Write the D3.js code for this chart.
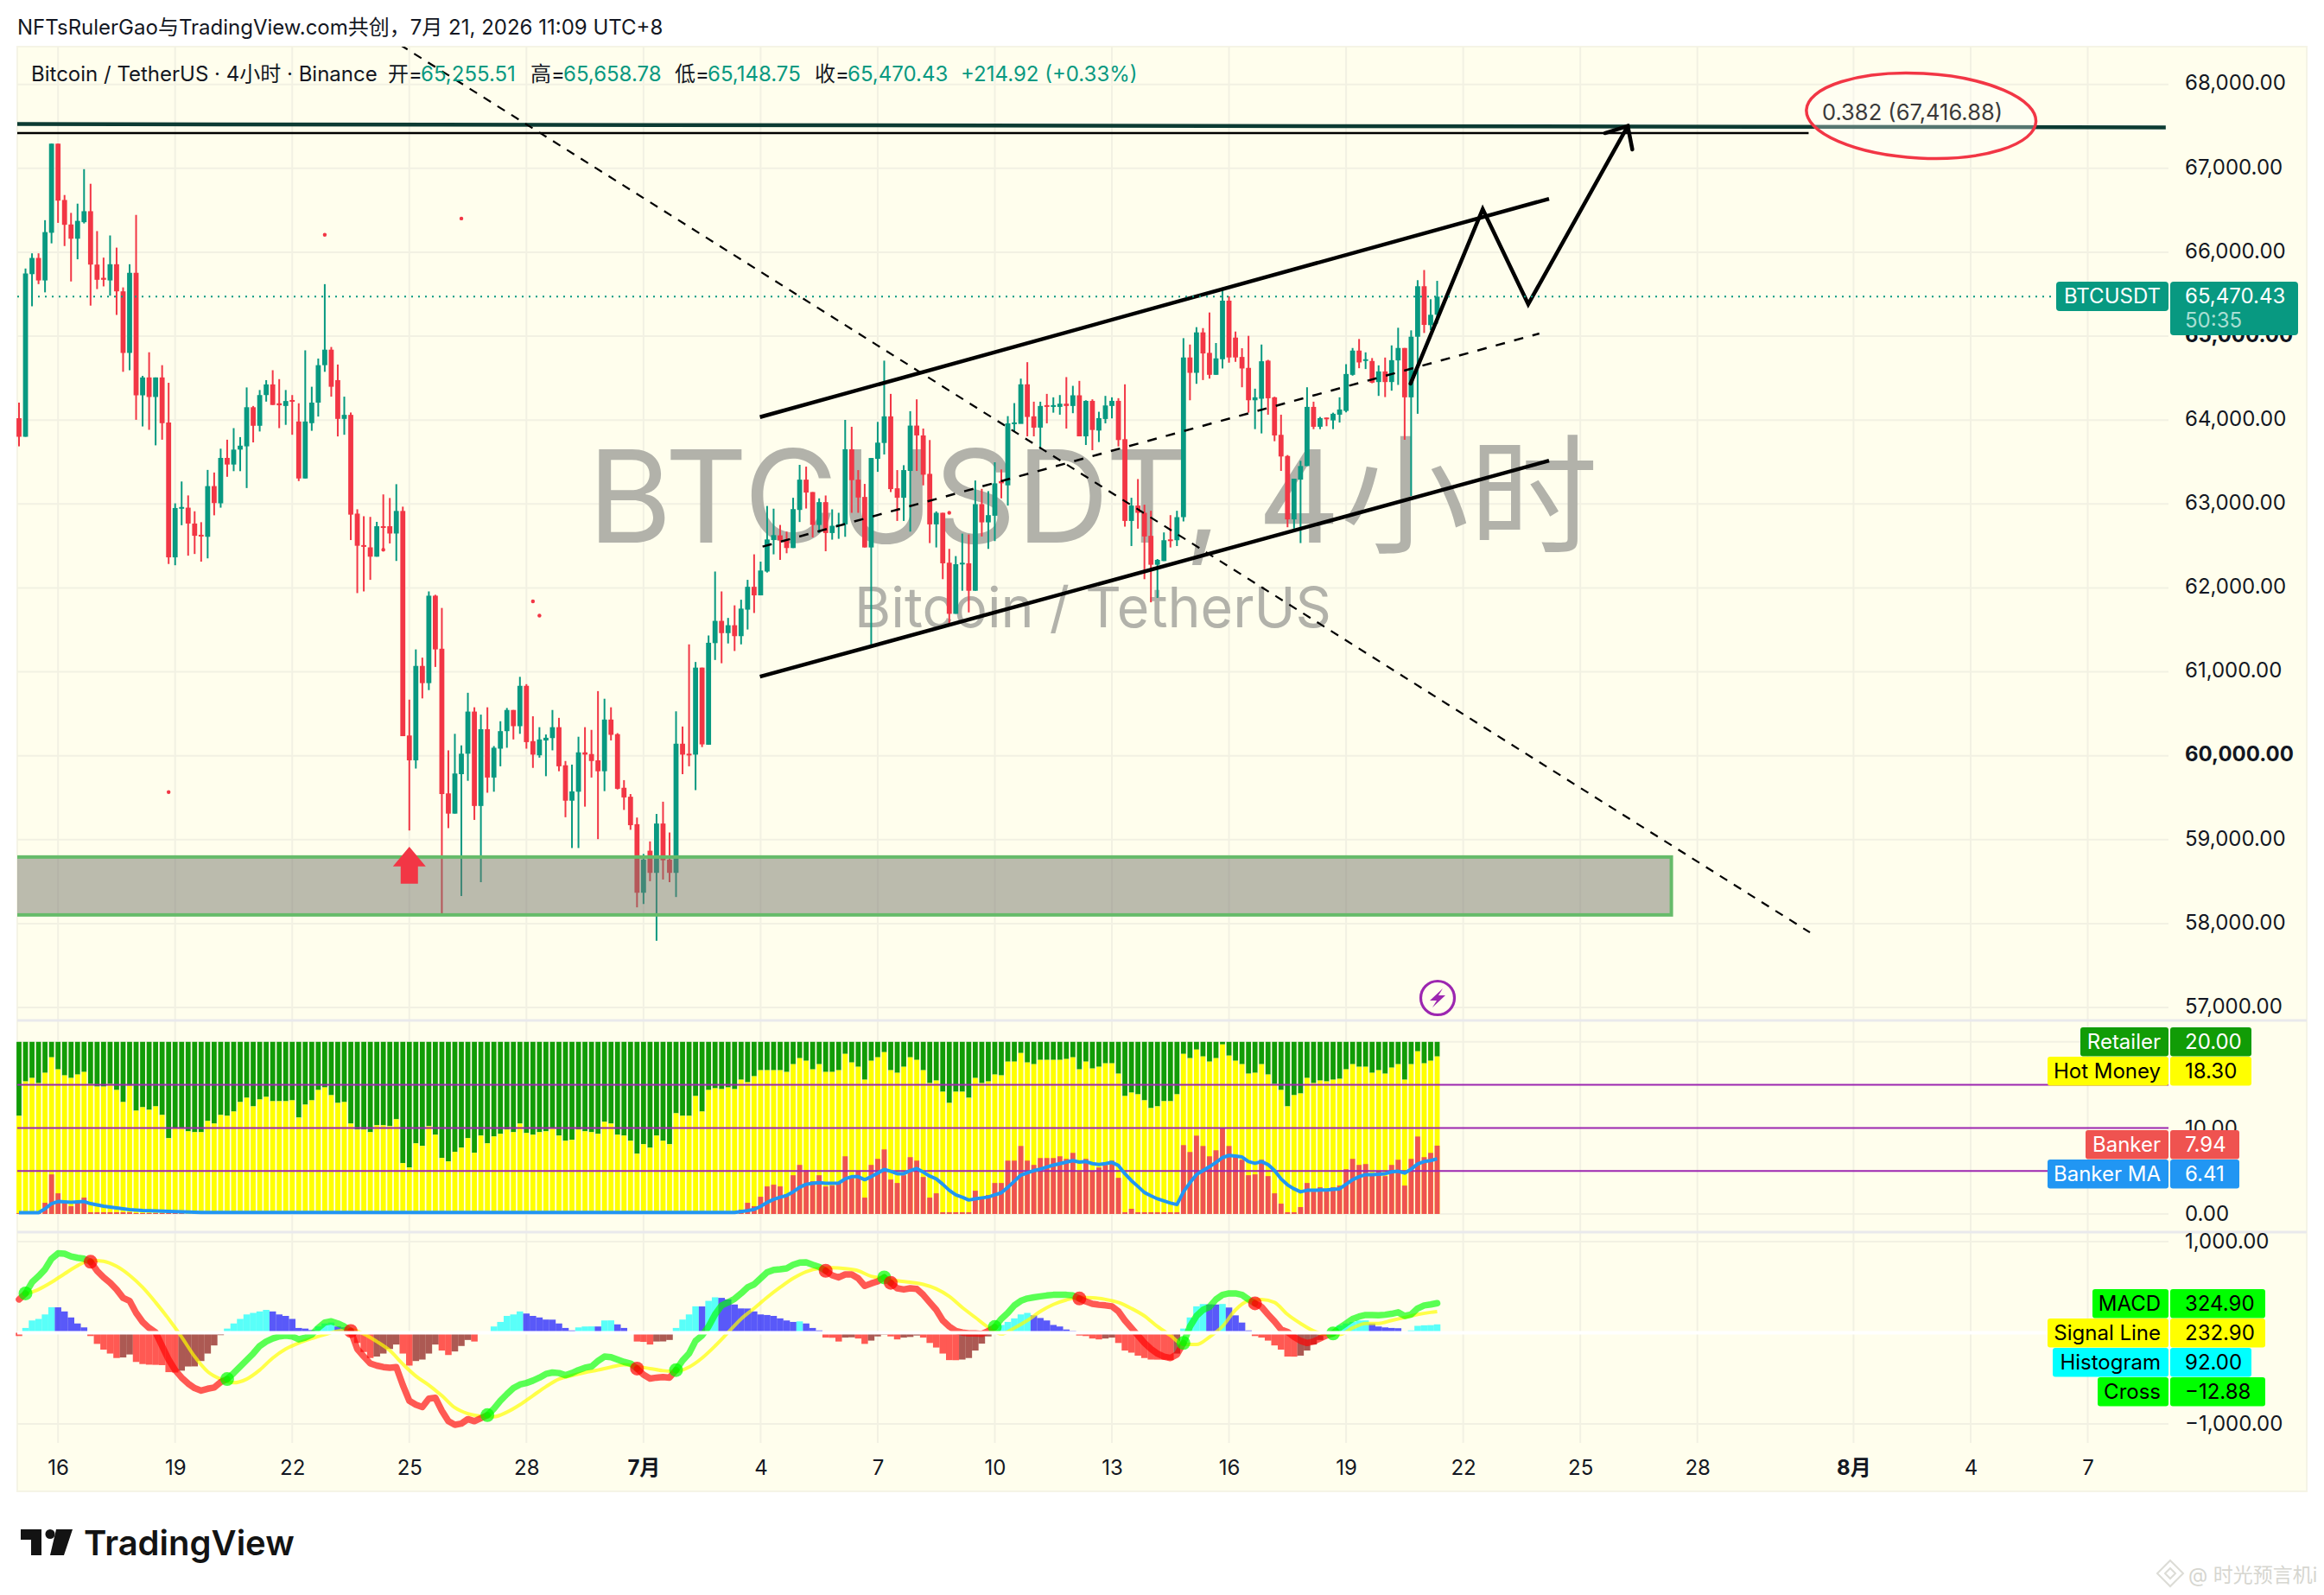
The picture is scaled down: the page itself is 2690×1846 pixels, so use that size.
<!DOCTYPE html>
<html lang="zh">
<head>
<meta charset="UTF-8">
<title>BTCUSDT 4H</title>
<script src="https://d3js.org/d3.v7.min.js"></script>
<style>
  html, body { margin: 0; background: #fff; }
  svg { display: block; }
  text { font-family: Inter, "Noto Sans CJK SC", sans-serif; }
  .axis path { display: none; }
  .axis text { font-family: Inter, "Noto Sans CJK SC", sans-serif; font-size: 24px; fill: #131722; }
</style>
</head>
<body>
<svg width="2690" height="1846"></svg>
<script>
// candles, one value per 4h bar
const opens = [
  64022,63801,65739,65932,65664,66232,67294,66623,66331,66161,
  66358,66489,65853,65695,65664,65857,65534,64800,65755,64295,
  64508,64275,64508,63971,62364,62952,62956,62767,62633,62609,
  63213,63008,63549,63470,63648,63687,64153,63932,64298,64425,
  64200,64168,64239,63983,63304,63963,64208,64654,64839,64476,
  64014,64062,62885,62510,62483,62372,62735,62735,62648,62917,
  60241,59945,61070,60865,61907,61275,59551,59310,59780,60024,
  60526,59401,60316,59740,60084,60293,60545,60352,60833,60174,
  60005,60182,60210,60340,59886,59464,59571,60040,60020,59945,
  59815,60431,60257,59618,59511,59184,58367,58868,58604,59192,
  58762,58604,60143,60024,60013,61050,60131,61342,61607,61461,
  61555,61425,61741,62013,61911,62195,62570,62626,62568,62475,
  62929,63290,63142,62750,63022,62654,62740,62757,63652,63290,
  63084,62482,63538,63727,64044,63187,63074,63394,63934,63817,
  63359,62757,62895,62300,61691,62282,62293,61966,62998,62781,
  62860,63273,63222,63961,63954,64426,64044,63910,64178,64157,
  64157,64195,64168,64295,63806,64229,63875,64013,64168,64229,
  63772,62798,62981,62895,62620,62276,62320,62578,62568,62843,
  64746,64563,65045,64801,64539,64725,65423,64983,64752,64622,
  64236,64254,64708,64271,63824,63572,62816,63290,63452,64157,
  63920,64030,63996,64064,64109,64539,64828,64704,64704,64453,
  64580,64453,64711,64859,64271,64993,65595,65131,65255.51];
const highs = [
  64208,65806,65987,65987,66382,67294,67294,66682,66469,66579,
  66990,66816,66252,65936,66200,66055,65581,65857,66445,64527,
  64808,64508,64654,64444,63008,63268,63102,62913,62783,63406,
  63375,63659,63766,63904,63797,64389,64168,64358,64476,64594,
  64488,64358,64298,64200,64831,64397,64733,65620,64871,64662,
  64279,64090,62937,62854,62846,62787,63114,63071,63236,62968,
  60668,61267,61169,61958,61918,61761,60064,60261,60123,60750,
  60577,60490,60577,60115,60411,60569,60545,60940,60853,60470,
  60340,60253,60545,60451,59937,59894,60226,60340,60308,60770,
  60679,60577,60269,59709,59543,59263,58829,58979,59306,59452,
  59085,60529,60348,61327,61117,61050,61433,62195,61958,61642,
  61792,61859,62096,62400,62313,62976,62944,62750,62671,63074,
  63466,63445,63142,63067,63101,62936,62895,64002,63920,63404,
  63239,63548,63978,64708,64312,63404,63462,64106,64247,63899,
  63762,62912,62895,62465,62379,62647,62637,63280,63180,63153,
  63497,63411,64047,64202,64494,64690,64219,64219,64312,64271,
  64298,64512,64408,64467,64236,64247,64099,64288,64271,64261,
  64426,63074,63297,62991,62919,62344,62661,62867,62919,64976,
  64900,65107,65096,65282,64918,65578,65475,65055,64856,65004,
  64374,64900,64718,64278,64064,63583,63301,63514,64391,64219,
  64037,64030,64088,64271,64666,64859,64966,64807,64739,64652,
  64745,64890,65100,64859,65069,65667,65788,65440,65658.78];
const lows = [
  63687,63801,65356,65620,65522,66106,66350,66074,65652,65916,
  66343,65364,65561,65593,65482,65253,64575,64594,64003,63924,
  63884,63699,63766,62285,62270,62747,62384,62404,62313,62352,
  62865,62956,63324,63391,63391,63190,63734,63864,64220,64180,
  63904,63943,63825,63273,63304,63872,64042,64575,64279,63805,
  63825,62570,61938,61958,62096,62372,62451,62530,62321,60233,
  59109,59847,60683,60782,61058,58122,59137,59310,58328,59701,
  59235,58493,59559,59571,59874,60095,60194,60261,60084,59855,
  59977,59756,60064,59815,59267,58900,58900,59393,59740,59006,
  59578,60182,59598,59354,59117,58193,58233,58505,57795,58525,
  58493,58316,59780,59874,59590,60103,60131,61141,61102,61338,
  61248,61327,61504,61701,61911,62183,62400,62334,62413,62475,
  62785,62946,62602,62654,62437,62575,62585,62609,62895,62895,
  62482,61312,63383,63590,63142,62798,62798,62671,63394,63222,
  62534,62482,62104,61570,61691,61966,61708,61966,62613,62465,
  62558,63067,62981,63858,63961,63806,63806,63652,63961,64088,
  64064,63899,64082,63806,63703,63641,63738,63961,64020,63686,
  62730,62499,62706,62104,61828,61880,62320,62482,62499,62792,
  64236,64432,64477,64494,64539,64615,64684,64694,64391,64088,
  63892,63841,64064,63748,63394,62723,62706,62534,63452,63892,
  63892,63927,63892,63971,64092,64529,64618,64608,64439,64288,
  64274,64350,64419,63765,63094,64075,65038,65072,65148.75];
const closes = [
  63801,65747,65932,65664,66240,67294,66615,66327,66161,66374,
  66489,65853,65672,65672,65857,65534,64800,65755,64295,64508,
  64275,64508,63963,62364,62952,62964,62767,62621,62621,63213,
  63011,63549,63470,63648,63695,64153,63932,64298,64425,64180,
  64176,64227,64220,63304,63983,64208,64654,64839,64397,64014,
  64062,62873,62502,62495,62372,62735,62720,62648,62917,60233,
  59945,61070,60865,61907,61267,59543,59310,59788,60024,60526,
  59401,60316,59740,60095,60293,60545,60352,60833,60162,60013,
  60194,60214,60340,59874,59464,59575,60040,60013,59937,59815,
  60431,60249,59606,59503,59172,58367,58762,58604,59192,58754,
  58604,60143,60013,60013,61050,60135,61346,61607,61461,61555,
  61425,61753,62013,61911,62207,62577,62629,62568,62475,62939,
  63290,63136,62750,63022,62654,62740,62757,63652,63284,63077,
  62482,63548,63731,64044,63177,63074,63404,63934,63817,63349,
  62757,62895,62293,61691,62282,62300,61966,62998,62781,62867,
  63246,63246,63961,63972,64426,64037,63910,64168,64157,64178,
  64195,64168,64295,63806,64229,63882,64023,64174,64229,63762,
  62798,62981,62895,62613,62276,62334,62568,62561,62843,64746,
  64563,65045,64794,64539,64735,65423,64746,64746,64615,64236,
  64271,64701,64260,63817,63566,62816,63301,63452,64157,63920,
  64023,64013,64075,64126,64549,64828,64687,64725,64446,64580,
  64453,64714,64859,64271,64993,65595,65134,65255,65470.43];

// stray red marks above/below the candles
const dotBars = [23, 47, 56, 68, 79, 80, 143];
const dotPrices = [59567, 66208, 62455, 66402, 61840, 61670, 62895];

// banker indicator, pane 2
const hotMoney = [
  11.4,15.4,15.8,15.2,16.4,18.2,16.8,16.1,15.8,16.2,
  16.5,15.1,14.8,14.8,15.1,14.4,13.0,14.9,12.0,12.4,
  12.1,12.5,11.5,8.8,10.0,9.9,9.6,9.5,9.5,10.8,
  10.5,11.5,11.4,11.9,13.0,13.5,12.5,13.3,13.6,13.1,
  13.1,13.1,13.2,11.2,12.7,13.2,14.4,14.7,13.8,12.9,
  13.0,10.5,9.8,9.8,9.5,10.3,10.3,10.2,11.0,5.9,
  5.4,8.2,7.9,10.2,9.2,6.5,6.1,7.2,7.7,8.8,
  7.1,9.1,8.2,9.0,9.3,9.8,9.5,10.5,9.4,9.2,
  9.5,9.6,9.9,9.1,8.5,8.6,9.8,9.6,9.5,9.3,
  10.7,10.5,9.2,9.1,8.5,7.0,8.1,7.7,9.1,8.5,
  8.1,11.7,11.4,11.4,13.7,11.9,14.4,14.6,14.5,14.7,
  14.5,15.6,15.3,16.0,16.7,16.7,16.7,16.7,16.5,17.4,
  18.1,17.8,16.8,17.4,16.5,16.5,16.7,18.6,17.6,17.1,
  15.6,17.8,18.2,18.8,16.7,16.4,17.1,18.2,17.9,16.7,
  15.2,15.5,14.2,12.9,14.2,14.2,13.5,15.8,15.2,15.4,
  16.2,16.1,17.7,17.7,18.7,17.6,17.4,17.9,17.9,17.9,
  17.9,18.0,18.2,16.8,17.7,16.9,17.1,17.5,17.5,16.3,
  13.7,14.1,13.9,13.2,12.3,12.5,13.1,13.1,13.9,18.6,
  18.1,19.1,18.3,17.7,18.1,19.7,18.4,17.8,17.4,16.3,
  16.4,17.4,16.2,15.1,14.4,12.5,13.8,14.0,15.8,15.2,
  15.5,15.4,15.6,15.7,16.8,17.4,17.1,17.1,16.4,16.7,
  16.3,17.0,17.4,15.6,17.4,18.9,17.5,17.8,18.3];
const banker = [
  .1,.1,.1,.1,1.3,4.6,2.4,1.5,.9,1.4,
  1.9,.2,.2,.2,.2,.2,.2,.2,.1,.1,
  .1,.1,.1,.1,.1,.1,0,0,0,0,
  0,0,0,0,0,0,0,0,0,0,
  0,0,0,0,0,0,0,0,0,0,
  0,0,0,0,0,0,0,0,0,0,
  0,0,0,0,0,0,0,0,0,0,
  0,0,0,0,0,0,0,0,0,0,
  0,0,0,0,0,0,0,0,0,0,
  0,0,0,0,0,0,0,0,0,0,
  0,0,0,0,0,0,0,0,0,0,
  .1,.5,1.3,.9,2.0,3.2,3.4,3.2,2.3,4.5,
  5.7,5.1,3.8,4.5,3.2,3.3,3.6,6.7,4.2,5.0,
  1.9,5.7,6.4,7.5,4.0,3.6,4.5,6.6,6.2,4.3,
  1.9,2.4,.2,.2,.2,.2,.2,2.7,1.9,2.2,
  3.6,3.6,6.2,6.2,7.9,6.2,5.7,6.5,6.5,6.5,
  6.7,6.4,7.1,4.9,6.4,5.0,5.4,5.7,6.2,4.2,
  .2,.6,.2,.2,.2,.2,.2,.2,.2,8.0,
  7.2,9.1,7.9,6.7,7.4,10.0,7.9,6.8,6.3,4.5,
  4.6,6.3,4.4,2.4,1.2,.2,.2,.8,3.6,2.6,
  3.1,2.9,3.1,3.3,5.2,6.4,5.7,5.8,4.5,5.0,
  4.4,5.7,6.3,3.3,6.4,9.0,6.6,7.1,7.94];
const bankerMA = [
  .15,.15,.15,.15,.6,1.2,1.45,1.4,1.35,1.4,
  1.45,1.2,1.05,.9,.8,.7,.6,.5,.45,.4,
  .38,.35,.33,.3,.28,.25,.22,.2,.18,.18,
  .18,.18,.18,.18,.18,.18,.18,.18,.18,.18,
  .18,.18,.18,.18,.18,.18,.18,.18,.18,.18,
  .18,.18,.18,.18,.18,.18,.18,.18,.18,.18,
  .18,.18,.18,.18,.18,.18,.18,.18,.18,.18,
  .18,.18,.18,.18,.18,.18,.18,.18,.18,.18,
  .18,.18,.18,.18,.18,.18,.18,.18,.18,.18,
  .18,.18,.18,.18,.18,.18,.18,.18,.18,.18,
  .18,.18,.18,.18,.18,.18,.18,.18,.18,.18,
  .18,.28,.39,.53,.88,1.34,1.69,1.94,2.15,2.57,
  3.10,3.45,3.56,3.63,3.56,3.56,3.59,4.08,4.33,4.33,
  3.98,4.33,4.75,5.18,4.96,4.68,4.68,5.04,5.28,4.86,
  4.40,4.08,3.45,2.75,2.22,1.94,1.62,1.76,1.87,1.97,
  2.22,2.46,3.10,3.80,4.51,4.79,5.04,5.21,5.46,5.67,
  5.85,6.02,6.20,6.02,6.09,5.85,5.74,5.85,5.99,5.63,
  4.68,3.87,3.20,2.50,2.11,1.76,1.51,1.27,1.09,2.57,
  3.63,4.58,5.04,5.49,5.99,6.55,6.80,6.73,6.62,6.09,
  5.88,6.09,5.74,5.04,4.08,3.38,2.92,2.57,2.75,2.75,
  2.78,2.78,2.85,2.92,3.45,3.98,4.33,4.58,4.58,4.61,
  4.68,4.89,4.96,4.75,5.21,5.81,6.09,6.20,6.41];

// MACD pane
const macd = [
  366,432,554,620,696,812,871,868,838,822,
  812,779,680,607,548,475,383,350,218,119,
  53,3,-145,-294,-409,-492,-558,-607,-634,-614,
  -601,-541,-508,-442,-370,-300,-228,-145,-96,-63,
  -40,-30,-40,-73,-53,-20,53,112,125,102,
  69,20,-178,-261,-337,-360,-376,-383,-376,-574,
  -746,-789,-815,-723,-713,-855,-970,-1010,-997,-947,
  -970,-937,-904,-832,-746,-673,-607,-568,-551,-525,
  -492,-452,-436,-442,-465,-442,-409,-383,-370,-310,
  -261,-267,-294,-320,-337,-393,-459,-502,-492,-485,
  -492,-409,-304,-228,-89,-30,69,201,300,333,
  373,432,498,531,597,663,690,696,706,746,
  769,772,746,723,680,630,607,640,640,597,
  515,541,564,607,548,488,475,488,482,416,
  333,251,135,69,20,3,-7,-7,-13,20,
  63,152,218,300,350,376,389,399,409,416,
  416,416,409,376,343,317,307,300,290,234,
  135,53,-30,-112,-178,-228,-261,-277,-238,-112,
  69,185,251,284,366,416,432,432,416,366,
  323,284,201,125,36,10,-46,-89,-112,-96,
  -63,-30,-7,53,102,152,178,195,195,191,
  198,208,224,185,201,267,300,310,324.9];
// signal was read every second bar, starting on bar 1, last point is the live bar
const signal = [
  422,475,554,647,736,795,785,729,630,498,
  333,152,-46,-261,-426,-508,-548,-508,-409,-277,
  -178,-112,-63,-20,20,36,-13,-96,-195,-343,
  -475,-574,-690,-822,-888,-914,-921,-871,-789,-690,
  -591,-508,-469,-436,-409,-376,-350,-370,-393,-416,
  -426,-376,-277,-145,3,
  152,267,389,498,597,670,706,713,703,680,
  620,597,571,554,531,482,399,277,168,59,
  -13,53,135,234,310,360,389,383,366,333,
  267,185,69,-30,-129,-129,-46,69,251,350,
  366,333,201,102,20,-20,-20,53,102,102,
  135,168,201,224,232.9];
const histogram = [
  -36,53,135,152,201,280,279,234,168,102,
  59,-36,-122,-185,-228,-277,-271,-238,-320,-343,
  -350,-352,-355,-432,-436,-416,-370,-369,-310,-228,
  -139,-26,46,102,152,201,218,234,251,234,
  201,185,152,53,46,30,69,102,112,69,
  59,-30,-112,-211,-277,-261,-228,-178,-129,-228,
  -360,-310,-294,-228,-129,-195,-244,-205,-145,-79,
  -96,0,0,69,119,185,201,234,211,185,
  168,145,144,102,53,26,59,69,70,69,
  135,136,92,53,0,-96,-100,-129,-96,-95,
  -79,53,145,201,290,289,350,389,383,366,
  310,267,266,234,201,195,185,158,135,119,
  125,102,53,26,-53,-55,-96,-53,-50,-63,
  -122,-86,-40,-20,-40,-73,-53,-46,-30,-53,
  -112,-162,-228,-300,-301,-294,-277,-195,-119,-40,
  36,86,119,158,201,218,191,162,135,86,
  69,36,20,-30,-36,-63,-73,-63,-53,-112,
  -195,-218,-251,-277,-294,-295,-296,-300,-228,46,
  168,290,315,312,310,316,277,191,112,26,
  -36,-53,-86,-139,-185,-261,-262,-251,-195,-129,
  -79,-30,26,79,102,119,135,136,102,69,
  59,53,50,13,26,76,82,84,92];
// bars where MACD crosses the signal, colour flips at each one
const crossBars = [1, 11, 32, 51, 72, 95, 101, 124, 133, 134, 150, 163, 179, 190, 202];

// axes
const tickBars = [6, 24, 42, 60, 78, 96, 114, 132, 150, 168, 186, 204, 222, 240, 258, 282, 300, 318];
const tickLabels = ["16", "19", "22", "25", "28", "7月", "4", "7", "10", "13", "16", "19", "22", "25", "28", "8月", "4", "7"];
const priceTicks = [57000, 58000, 59000, 60000, 61000, 62000, 63000, 64000, 65000, 66000, 67000, 68000];
const boldPrices = [60000, 65000];
const bankerTicks = [0, 10];
const bankerGrid = [0, 20];
const bankerLevels = [5, 10, 15];
const macdTicks = [-1000, 1000];

const upColor = "#089981", downColor = "#f23645";
const left = 20, right = 2510, panelRight = 2670, panelTop = 54, panelBottom = 1726, axisY = 1670;

const svg = d3.select("svg");
const x = d3.scaleLinear().domain([0, 218]).range([22, 1663.5]);
const y = d3.scaleLinear().domain([57000, 68000]).range([1166, 97.7]);
const yB = d3.scaleLinear().domain([0, 20]).range([1405, 1205.8]);
const yM = d3.scaleLinear().domain([-1000, 1000]).range([1648, 1437]);
const bars = d3.range(opens.length);

svg.append("clipPath").attr("id", "main").append("rect")
  .attr("x", left).attr("y", panelTop).attr("width", right - left).attr("height", 1181 - panelTop);

svg.append("rect").attr("x", left).attr("y", panelTop)
  .attr("width", panelRight - left).attr("height", panelBottom - panelTop)
  .attr("fill", "#fffeed").attr("stroke", "#f5f4e6").attr("stroke-width", 2);

// grid
const grid = svg.append("g").attr("stroke", "#f2f1e3").attr("stroke-width", 2);
grid.selectAll(".v").data(tickBars).join("line").attr("class", "v")
  .attr("x1", d => x(d)).attr("x2", d => x(d)).attr("y1", panelTop).attr("y2", axisY);
grid.selectAll(".h").data(priceTicks).join("line").attr("class", "h")
  .attr("x1", left).attr("x2", right).attr("y1", d => y(d)).attr("y2", d => y(d));
grid.selectAll(".b").data(bankerGrid).join("line").attr("class", "b")
  .attr("x1", left).attr("x2", right).attr("y1", d => yB(d)).attr("y2", d => yB(d));
grid.selectAll(".m").data(macdTicks).join("line").attr("class", "m")
  .attr("x1", left).attr("x2", right).attr("y1", d => yM(d)).attr("y2", d => yM(d));
[1181, 1426].forEach(p => svg.append("line").attr("x1", left).attr("x2", panelRight)
  .attr("y1", p).attr("y2", p).attr("stroke", "#e9e9ec").attr("stroke-width", 3));

// symbol watermark
svg.append("text").attr("x", 1265).attr("y", 628).attr("text-anchor", "middle")
  .attr("font-size", 149).attr("fill", "#b2b2aa").text("BTCUSDT, 4小时");
svg.append("text").attr("x", 1265).attr("y", 726).attr("text-anchor", "middle")
  .attr("font-size", 64.5).attr("fill", "#b2b2aa").text("Bitcoin / TetherUS");

// candles
const candle = svg.append("g").selectAll("g").data(bars).join("g")
  .attr("fill", i => closes[i] >= opens[i] ? upColor : downColor);
candle.append("rect").attr("x", i => x(i) - 1).attr("width", 2)
  .attr("y", i => y(highs[i])).attr("height", i => y(lows[i]) - y(highs[i]));
candle.append("rect").attr("x", i => x(i) - 2.9).attr("width", 5.8)
  .attr("y", i => y(Math.max(opens[i], closes[i])))
  .attr("height", i => Math.max(2, Math.abs(y(opens[i]) - y(closes[i]))));

svg.append("g").selectAll("circle").data(dotBars).join("circle")
  .attr("cx", d => x(d)).attr("cy", (d, i) => y(dotPrices[i])).attr("r", 2.2).attr("fill", downColor);

// drawings
const draw = svg.append("g").attr("clip-path", "url(#main)");
const pt = d3.line().x(d => x(d[0])).y(d => y(d[1]));

// zone runs off the left edge of the pane, so no left border shows
const zoneTop = 58793, zoneBottom = 58103, zoneEnd = 254;
draw.append("rect").attr("x", left - 6).attr("y", y(zoneTop))
  .attr("width", x(zoneEnd) - left + 6).attr("height", y(zoneBottom) - y(zoneTop))
  .attr("fill", "rgba(120,120,110,.5)").attr("stroke", "#66bb6a").attr("stroke-width", 4);

// last price line
svg.append("line").attr("x1", left).attr("x2", 2380).attr("y1", y(65470.43)).attr("y2", y(65470.43))
  .attr("stroke", upColor).attr("stroke-width", 2).attr("stroke-dasharray", "2 6");

// arrow marker on bar 60
const arrowBar = 60, arrowTop = 58914, arrowBase = 58680, arrowBottom = 58475;
svg.append("path").attr("fill", downColor).attr("d", () => {
  const c = x(arrowBar), t = y(arrowTop), m = y(arrowBase), b = y(arrowBottom);
  return `M${c},${t}L${c + 19},${m}H${c + 10}V${b}H${c - 10}V${m}H${c - 19}Z`;
});

const fibPrice = 67420;
const thickLine = [[-0.3, 67528], [330, 67488]];
const channelUp = [[113.9, 64035], [235.2, 66637]];
const channelLow = [[113.9, 60942], [235.2, 63516]];
const channelMid = [[114.3, 62492], [233.7, 65031]];
const downTrend = [[58.6, 68471], [275.3, 57894]];
const zigzag = [[213.9, 64434], [225, 66514], [232, 65381], [247.3, 67503]];
const arrowHead = [[243.8, 67420], [247.3, 67503], [248, 67225]];

draw.append("path").attr("d", pt(thickLine)).attr("stroke", "#0c3b33").attr("stroke-width", 4.5).attr("fill", "none");
draw.append("path").attr("d", pt([[-0.3, fibPrice], [275.1, fibPrice]])).attr("stroke", "#000").attr("stroke-width", 2.5).attr("fill", "none");
draw.append("path").attr("d", pt(channelUp)).attr("stroke", "#000").attr("stroke-width", 4.5).attr("fill", "none");
draw.append("path").attr("d", pt(channelLow)).attr("stroke", "#000").attr("stroke-width", 4.5).attr("fill", "none");
draw.append("path").attr("d", pt(channelMid)).attr("stroke", "#000").attr("stroke-width", 2.5).attr("fill", "none").attr("stroke-dasharray", "11 11");
draw.append("path").attr("d", pt(downTrend)).attr("stroke", "#000").attr("stroke-width", 2.2).attr("fill", "none").attr("stroke-dasharray", "10 9");
draw.append("path").attr("d", pt(zigzag)).attr("stroke", "#000").attr("stroke-width", 4.5).attr("fill", "none").attr("stroke-linecap", "round");
draw.append("path").attr("d", pt(arrowHead)).attr("stroke", "#000").attr("stroke-width", 4.5).attr("fill", "none").attr("stroke-linecap", "round");

// circled fib label
const ellipseBar = 292.4, ellipsePrice = 67626;
svg.append("ellipse").attr("cx", x(ellipseBar)).attr("cy", y(ellipsePrice)).attr("rx", 133).attr("ry", 49)
  .attr("transform", `rotate(3 ${x(ellipseBar)} ${y(ellipsePrice)})`)
  .attr("fill", "rgba(255,255,255,.3)").attr("stroke", downColor).attr("stroke-width", 3.5);
svg.append("text").attr("x", 2109).attr("y", 139).attr("font-size", 25.5).attr("fill", "#3a3a3a").text("0.382 (67,416.88)");

// banker pane
const pane2 = svg.append("g");
pane2.selectAll(".ret").data(bars).join("rect").attr("class", "ret").attr("fill", "#119c06")
  .attr("x", i => x(i) - 2.9).attr("width", 5.8).attr("y", yB(20)).attr("height", yB(0) - yB(20));
pane2.selectAll(".hot").data(bars).join("rect").attr("class", "hot")
  .attr("x", i => x(i) - 3.76).attr("width", 7.53).attr("y", i => yB(hotMoney[i])).attr("height", i => yB(0) - yB(hotMoney[i]))
  .attr("fill", "#fffeed");
pane2.selectAll(".hot2").data(bars).join("rect").attr("class", "hot2").attr("fill", "#ffff00")
  .attr("x", i => x(i) - 2.9).attr("width", 5.8).attr("y", i => yB(hotMoney[i])).attr("height", i => yB(0) - yB(hotMoney[i]));
pane2.selectAll(".bank").data(bars).join("rect").attr("class", "bank").attr("fill", "#ef5350")
  .attr("x", i => x(i) - 2.9).attr("width", 5.8).attr("y", i => yB(banker[i])).attr("height", i => yB(0) - yB(banker[i]));
pane2.selectAll(".lvl").data(bankerLevels).join("line").attr("class", "lvl")
  .attr("x1", left).attr("x2", right).attr("y1", d => yB(d)).attr("y2", d => yB(d))
  .attr("stroke", "#9c27b0").attr("stroke-width", 2);
pane2.append("path").datum(bars)
  .attr("d", d3.line().x(i => x(i)).y(i => yB(bankerMA[i])))
  .attr("fill", "none").attr("stroke", "#2196f3").attr("stroke-width", 4).attr("stroke-linejoin", "round");

// MACD pane
const pane3 = svg.append("g");
const histColor = i => {
  const v = histogram[i], prev = i ? histogram[i - 1] : 0;
  if (v >= 0) return v >= prev ? "rgba(0,255,255,.65)" : "rgba(0,0,255,.65)";
  return v <= prev ? "rgba(255,0,0,.65)" : "rgba(128,0,0,.65)";
};
pane3.selectAll(".hist").data(bars).join("rect").attr("class", "hist")
  .attr("x", i => x(i) - 3.76).attr("width", 7.53)
  .attr("y", i => Math.min(yM(0), yM(histogram[i])))
  .attr("height", i => Math.abs(yM(histogram[i]) - yM(0)))
  .attr("fill", histColor);

const signalBar = k => Math.min(1 + 2 * k, 218);
pane3.append("path").datum(signal)
  .attr("d", d3.line().x((d, k) => x(signalBar(k))).y(d => yM(d)).curve(d3.curveMonotoneX))
  .attr("fill", "none").attr("stroke", "rgba(255,255,0,.7)").attr("stroke-width", 4);

const macdLine = d3.line().x(i => x(i)).y(i => yM(macd[i]));
const flips = [0, ...crossBars, macd.length - 1];
d3.pairs(flips).forEach(([a, b], s) => {
  pane3.append("path").datum(d3.range(a, b + 1)).attr("d", macdLine).attr("fill", "none")
    .attr("stroke", s % 2 ? "rgba(0,255,0,.65)" : "rgba(255,0,0,.65)")
    .attr("stroke-width", 7.5).attr("stroke-linecap", "round").attr("stroke-linejoin", "round");
});
pane3.selectAll(".cross").data(crossBars).join("circle").attr("class", "cross")
  .attr("cx", d => x(d)).attr("cy", d => yM(macd[d])).attr("r", 8)
  .attr("fill", (d, s) => s % 2 ? "rgba(255,0,0,.7)" : "rgba(0,255,0,.7)");
pane3.append("line").attr("x1", left).attr("x2", right).attr("y1", yM(0)).attr("y2", yM(0))
  .attr("stroke", "#fff").attr("stroke-width", 4);

// axes
const priceAxis = svg.append("g").attr("class", "axis").attr("transform", `translate(${right},0)`)
  .call(d3.axisRight(y).tickValues(priceTicks).tickSize(0).tickPadding(19).tickFormat(d3.format(",.2f")));
priceAxis.selectAll("text").attr("font-weight", d => boldPrices.includes(d) ? 700 : 400).attr("dy", ".26em");
svg.append("g").attr("class", "axis").attr("transform", `translate(${right},0)`)
  .call(d3.axisRight(yB).tickValues(bankerTicks).tickSize(0).tickPadding(19).tickFormat(d3.format(".2f")));
svg.append("g").attr("class", "axis").attr("transform", `translate(${right},0)`)
  .call(d3.axisRight(yM).tickValues(macdTicks).tickSize(0).tickPadding(19).tickFormat(d3.format(",.2f")));
const timeAxis = svg.append("g").attr("class", "axis").attr("transform", `translate(0,${axisY})`)
  .call(d3.axisBottom(x).tickValues(tickBars).tickSize(0).tickPadding(20).tickFormat((d, i) => tickLabels[i]));
timeAxis.selectAll("text").attr("font-weight", (d, i) => tickLabels[i].includes("月") ? 700 : 400);

// price tag
svg.append("rect").attr("x", 2380).attr("y", 326).attr("width", 130).attr("height", 34).attr("rx", 4).attr("fill", upColor);
svg.append("rect").attr("x", 2512).attr("y", 326).attr("width", 148).attr("height", 62).attr("rx", 4).attr("fill", upColor);
svg.append("text").attr("x", 2445).attr("y", 351).attr("text-anchor", "middle").attr("font-size", 24).attr("fill", "#fff").text("BTCUSDT");
svg.append("text").attr("x", 2529).attr("y", 351).attr("font-size", 24).attr("fill", "#fff").text("65,470.43");
svg.append("text").attr("x", 2529).attr("y", 379).attr("font-size", 24).attr("fill", "#a9dfd3").text("50:35");

// indicator value tags
const tagNames = ["Retailer", "Hot Money", "Banker", "Banker MA", "MACD", "Signal Line", "Histogram", "Cross"];
const tagValues = ["20.00", "18.30", "7.94", "6.41", "324.90", "232.90", "92.00", "−12.88"];
const tagFill = ["#119c06", "#ffff00", "#ef5350", "#2196f3", "#00ff00", "#ffff00", "#00ffff", "#00ff00"];
const tagText = ["#fff", "#000", "#fff", "#fff", "#000", "#000", "#000", "#000"];
const tagTop = [1189, 1223, 1308, 1342, 1492, 1526, 1560, 1594];
const tagStart = [2408, 2370, 2414, 2370, 2422, 2370, 2376, 2428];
const tagEnd = [2606, 2606, 2592, 2592, 2622, 2622, 2606, 2622];
tagNames.forEach((name, i) => {
  const t = svg.append("g");
  t.append("rect").attr("x", tagStart[i]).attr("y", tagTop[i]).attr("width", 2510 - tagStart[i]).attr("height", 33.5).attr("rx", 3).attr("fill", tagFill[i]);
  t.append("rect").attr("x", 2512).attr("y", tagTop[i]).attr("width", tagEnd[i] - 2512).attr("height", 33.5).attr("rx", 3).attr("fill", tagFill[i]);
  t.append("text").attr("x", 2501).attr("y", tagTop[i] + 25).attr("text-anchor", "end").attr("font-size", 24).attr("fill", tagText[i]).text(name);
  t.append("text").attr("x", 2529).attr("y", tagTop[i] + 25).attr("font-size", 24).attr("fill", tagText[i]).text(tagValues[i]);
});

// titles
svg.append("text").attr("x", 20).attr("y", 40).attr("font-size", 24).attr("fill", "#131722")
  .text("NFTsRulerGao与TradingView.com共创，7月 21, 2026 11:09 UTC+8");

const ohlcLabel = ["Bitcoin / TetherUS · 4小时 · Binance", "开=", "高=", "低=", "收="];
const ohlcLabelX = [36, 449, 614, 781, 943];
const ohlcValue = ["65,255.51", "65,658.78", "65,148.75", "65,470.43", "+214.92 (+0.33%)"];
const ohlcValueX = [487, 652, 819, 981, 1112];
ohlcLabel.forEach((s, i) => svg.append("text").attr("x", ohlcLabelX[i]).attr("y", 94).attr("font-size", 24).attr("fill", "#131722").text(s));
ohlcValue.forEach((s, i) => svg.append("text").attr("x", ohlcValueX[i]).attr("y", 94).attr("font-size", 24).attr("fill", upColor).text(s));

// lightning badge
const badge = svg.append("g").attr("transform", "translate(1664,1155)");
badge.append("circle").attr("r", 19.5).attr("fill", "#fffeed").attr("stroke", "#9c27b0").attr("stroke-width", 3.2);
badge.append("path").attr("d", "M6,-11L-9,3H-1L-6,11L9,-3H1Z").attr("fill", "#9c27b0");

// logo
const logo = svg.append("g").attr("fill", "#131313");
logo.append("path").attr("d", "M24,1770H48V1800H36V1782H24Z");
logo.append("circle").attr("cx", 58).attr("cy", 1775.5).attr("r", 5.5);
logo.append("path").attr("d", "M65,1770H84L74,1800H58Z");
logo.append("text").attr("x", 97).attr("y", 1800).attr("font-size", 40).attr("font-weight", 600).text("TradingView");

// reposter mark, bottom right
const mark = svg.append("g").attr("fill", "none").attr("stroke", "#dcdcd6").attr("stroke-width", 2);
mark.append("path").attr("d", "M2512,1806L2527,1821L2512,1836L2497,1821Z M2512,1815L2518,1821L2512,1827L2506,1821Z");
svg.append("text").attr("x", 2533).attr("y", 1831).attr("font-size", 23).attr("fill", "#d6d6d0").text("@ 时光预言机i");
</script>
</body>
</html>
